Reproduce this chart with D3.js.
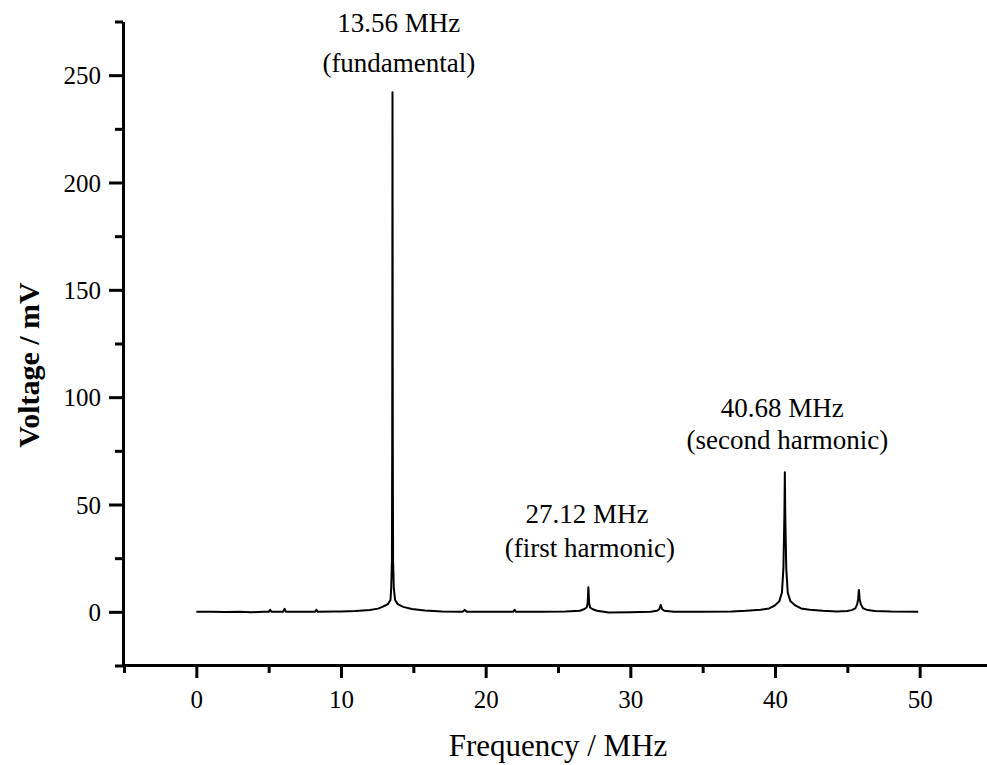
<!DOCTYPE html>
<html>
<head>
<meta charset="utf-8">
<script src="https://cdn.jsdelivr.net/npm/d3@7"></script>
<style>
  html, body { margin: 0; padding: 0; background: #fff; }
  svg { display: block; font-family: "Liberation Serif", "Times New Roman", serif; }
  .axis path, .axis line { stroke: #000; stroke-width: 3px; }
  .axis text { font-size: 25px; fill: #000; font-family: "Liberation Serif", "Times New Roman", serif; }
</style>
</head>
<body>
<svg id="chart" width="987" height="765"></svg>
<script>
// spectrum: [frequency MHz, voltage mV]
var spectrum = [
  [0.0, 0], [1.0, 0], [2.0, -0.1], [3.0, 0], [3.8, -0.2], [4.6, 0],
  [5.0, 0], [5.1, 1.0], [5.2, 0], [6.0, 0], [6.1, 1.4], [6.2, 0],
  [7.5, 0], [8.2, 0], [8.3, 1.0], [8.4, 0], [9.5, 0.1], [10.0, 0.2],
  [11.0, 0.4], [12.0, 0.9], [12.56, 1.5], [12.9, 2.4], [13.24, 3.6],
  [13.42, 5.5], [13.47, 11], [13.52, 24], [13.54, 80], [13.56, 242],
  [13.58, 80], [13.6, 24], [13.65, 11], [13.74, 5.5], [13.92, 3.6],
  [14.3, 2.3], [14.9, 1.3], [15.8, 0.6], [17.0, 0.2], [18.4, 0],
  [18.55, 0.9], [18.7, 0], [20.0, 0], [21.9, 0], [22.0, 0.9], [22.1, 0],
  [24.0, 0], [25.5, 0.1], [26.5, 0.5], [26.8, 1.2], [26.98, 2],
  [27.05, 4], [27.1, 11.5], [27.15, 4], [27.22, 2], [27.4, 1.2],
  [27.7, 0.5], [28.5, -0.3], [30.0, -0.2], [31.4, 0], [31.85, 0.5],
  [32.0, 1.2], [32.1, 3.2], [32.2, 1.2], [32.35, 0.5], [33.0, 0],
  [35.0, 0], [37.0, 0.2], [38.0, 0.5], [39.0, 1.0], [39.6, 1.6],
  [40.0, 3.0], [40.3, 5], [40.48, 9], [40.58, 20], [40.65, 45],
  [40.68, 65], [40.71, 45], [40.78, 20], [40.88, 9], [41.06, 5],
  [41.4, 3.0], [41.8, 1.6], [42.4, 1.0], [43.3, 0.5], [44.3, 0.2],
  [45.0, 0.4], [45.3, 0.8], [45.55, 1.6], [45.68, 3.5], [45.75, 6],
  [45.8, 10.2], [45.85, 6], [45.93, 3.5], [46.1, 1.6], [46.4, 0.8],
  [46.9, 0.4], [48.0, 0.1], [49.9, 0]
];

var xMajorTicks = [0, 10, 20, 30, 40, 50];
var xMinorTicks = [-5, 5, 15, 25, 35, 45, 55];
var yMajorTicks = [0, 50, 100, 150, 200, 250];
var yMinorTicks = [-25, 25, 75, 125, 175, 225, 275];

// annotation lines: text, frequency (MHz) and voltage (mV) of the text baseline
var peakLabels = [
  { text: '13.56 MHz', f: 14.0, v: 270 },
  { text: '(fundamental)', f: 14.0, v: 251.5 },
  { text: '27.12 MHz', f: 27.0, v: 41.4 },
  { text: '(first harmonic)', f: 27.2, v: 25.6 },
  { text: '40.68 MHz', f: 40.5, v: 90.8 },
  { text: '(second harmonic)', f: 40.85, v: 75.9 }
];

var xTitle = 'Frequency / MHz';
var yTitle = 'Voltage / mV';

var svg = d3.select('#chart');

var x = d3.scaleLinear().domain([-5, 55]).range([124, 992]);
var y = d3.scaleLinear().domain([-25, 275]).range([665.5, 21.5]);

var AX_Y = 665;
var AX_X = 123;

// minor ticks first, then major with labels
svg.append('g')
  .attr('class', 'axis')
  .attr('transform', 'translate(0,' + AX_Y + ')')
  .call(d3.axisBottom(x).tickValues(xMinorTicks).tickSize(8).tickSizeOuter(0).tickFormat(''));

svg.append('g')
  .attr('class', 'axis')
  .attr('transform', 'translate(0,' + AX_Y + ')')
  .call(d3.axisBottom(x).tickValues(xMajorTicks).tickSize(13).tickSizeOuter(0).tickPadding(12))
  .call(function (g) { g.select('.domain').remove(); });

svg.append('g')
  .attr('class', 'axis')
  .attr('transform', 'translate(' + AX_X + ',0)')
  .call(d3.axisLeft(y).tickValues(yMinorTicks).tickSize(8).tickSizeOuter(0).tickFormat(''));

svg.append('g')
  .attr('class', 'axis')
  .attr('transform', 'translate(' + AX_X + ',0)')
  .call(d3.axisLeft(y).tickValues(yMajorTicks).tickSize(14).tickSizeOuter(0).tickPadding(8))
  .call(function (g) {
    g.select('.domain').remove();
    g.selectAll('text').attr('dy', '0.34em');
  });

var line = d3.line()
  .x(function (d) { return x(d[0]); })
  .y(function (d) { return y(d[1]); });

svg.append('path')
  .datum(spectrum)
  .attr('d', line)
  .attr('fill', 'none')
  .attr('stroke', '#000')
  .attr('stroke-width', 2)
  .attr('stroke-linejoin', 'round');

svg.selectAll('.peak-label')
  .data(peakLabels)
  .enter().append('text')
  .attr('class', 'peak-label')
  .attr('x', function (d) { return x(d.f); })
  .attr('y', function (d) { return y(d.v); })
  .attr('text-anchor', 'middle')
  .attr('font-size', 27)
  .attr('fill', '#000')
  .text(function (d) { return d.text; });

svg.append('text')
  .attr('x', 558)
  .attr('y', 756)
  .attr('text-anchor', 'middle')
  .attr('font-size', 31)
  .text(xTitle);

svg.append('text')
  .attr('transform', 'translate(39,365) rotate(-90)')
  .attr('text-anchor', 'middle')
  .attr('font-size', 30)
  .attr('font-weight', 'bold')
  .text(yTitle);
</script>
</body>
</html>
